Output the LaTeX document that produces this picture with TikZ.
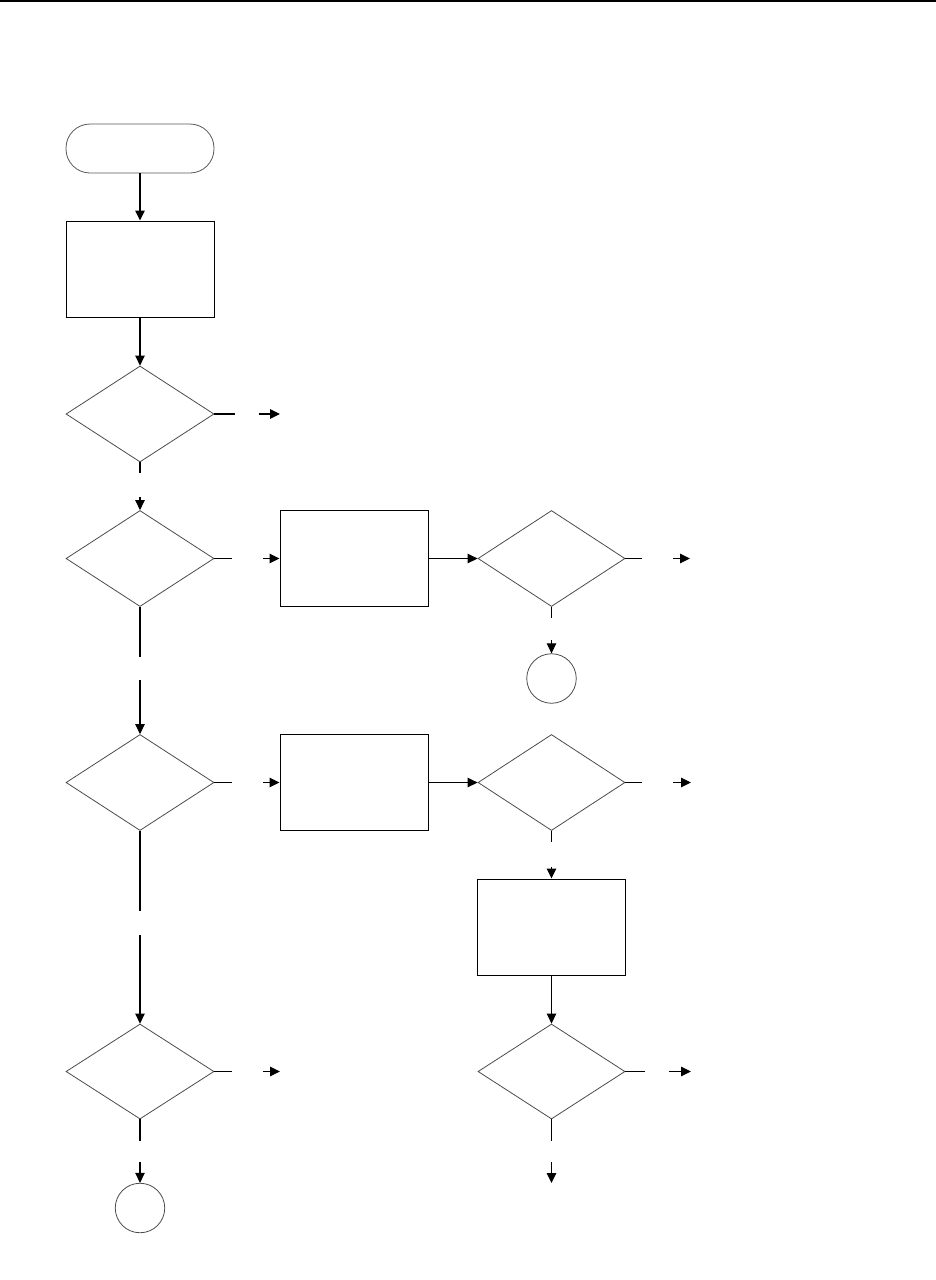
\documentclass[tikz,border=0pt]{standalone}
\usetikzlibrary{shapes.geometric,arrows.meta}
\begin{document}
\begin{tikzpicture}[x=1pt,y=-1pt,
  procbox/.style={draw=black,line width=1pt,rectangle,minimum width=148pt,minimum height=96pt,inner sep=0pt},
  decis/.style={draw=black!70,line width=0.8pt,diamond,minimum width=148pt,minimum height=96pt,inner sep=0pt},
  termbox/.style={draw=black!65,line width=0.8pt,rectangle,rounded corners=24pt,minimum width=148pt,minimum height=49pt,inner sep=0pt},
  connc/.style={draw=black!70,line width=0.8pt,circle,minimum size=49.5pt,inner sep=0pt},
  wire/.style={draw=black,line width=1.1pt},
  arr/.style={wire,-{Triangle[length=10pt,width=9.5pt]}}]
\useasboundingbox (0,0) rectangle (936,1280);
\fill[white] (0,0) rectangle (936,1280);
\draw[line width=1.5pt] (0,1) -- (936,1);
% nodes
\node[termbox] (term) at (140,148.5) {};
\node[procbox] (box1) at (140,269) {};
\node[decis] (d1) at (140,414) {};
\node[decis] (d2) at (140,558.5) {};
\node[procbox] (box2) at (354,558.5) {};
\node[decis,minimum width=147pt] (d3) at (551.5,558.5) {};
\node[connc] (circ1) at (551.5,678.5) {};
\node[decis] (d4) at (140,782.5) {};
\node[procbox] (box3) at (354,782.5) {};
\node[decis,minimum width=147pt] (d5) at (551.5,782.5) {};
\node[procbox] (box4) at (551.5,927) {};
\node[decis,minimum height=95pt] (d6) at (140,1071.5) {};
\node[connc] (circ2) at (140,1208) {};
\node[decis,minimum width=147pt,minimum height=95pt] (d7) at (551.5,1071.5) {};
% coordinates for split connectors
\coordinate (d1e1) at (235,414); \coordinate (d1e2) at (259,414); \coordinate (d1e3) at (280,414);
\coordinate (d1s1) at (140,473); \coordinate (d1s2) at (140,497);
\coordinate (d2e1) at (232,558.5); \coordinate (d2e2) at (263,558.5);
\coordinate (d2s1) at (140,657); \coordinate (d2s2) at (140,680);
\coordinate (d3e1) at (642,558.5); \coordinate (d3e2) at (673,558.5); \coordinate (d3e3) at (690,558.5);
\coordinate (d3s1) at (551.5,618); \coordinate (d3s2) at (551.5,640);
\coordinate (d4e1) at (232,782.5); \coordinate (d4e2) at (263,782.5);
\coordinate (d4s1) at (140,911); \coordinate (d4s2) at (140,935);
\coordinate (d5e1) at (642,782.5); \coordinate (d5e2) at (673,782.5); \coordinate (d5e3) at (691,782.5);
\coordinate (d5s1) at (551.5,842); \coordinate (d5s2) at (551.5,867);
\coordinate (d6e1) at (232,1071.5); \coordinate (d6e2) at (263,1071.5); \coordinate (d6e3) at (280,1071.5);
\coordinate (d6s1) at (140,1141); \coordinate (d6s2) at (140,1162);
\coordinate (d7e1) at (645,1071.5); \coordinate (d7e2) at (669,1071.5); \coordinate (d7e3) at (691,1071.5);
\coordinate (d7s1) at (551.5,1141); \coordinate (d7s2) at (551.5,1162); \coordinate (d7s3) at (551.5,1183);
% connectors
\draw[arr] (term) -- (box1);
\draw[arr] (box1) -- (d1);
\draw[wire] (d1.east) -- (d1e1); \draw[arr] (d1e2) -- (d1e3);
\draw[wire] (d1.south) -- (d1s1); \draw[arr] (d1s2) -- (d2.north);
\draw[wire] (d2.east) -- (d2e1); \draw[arr] (d2e2) -- (box2.west);
\draw[arr] (box2.east) -- (d3.west);
\draw[wire] (d3.east) -- (d3e1); \draw[arr] (d3e2) -- (d3e3);
\draw[wire] (d3.south) -- (d3s1); \draw[arr] (d3s2) -- (circ1.north);
\draw[wire] (d2.south) -- (d2s1); \draw[arr] (d2s2) -- (d4.north);
\draw[wire] (d4.east) -- (d4e1); \draw[arr] (d4e2) -- (box3.west);
\draw[arr] (box3.east) -- (d5.west);
\draw[wire] (d5.east) -- (d5e1); \draw[arr] (d5e2) -- (d5e3);
\draw[wire] (d5.south) -- (d5s1); \draw[arr] (d5s2) -- (box4.north);
\draw[arr] (box4.south) -- (d7.north);
\draw[wire] (d4.south) -- (d4s1); \draw[arr] (d4s2) -- (d6.north);
\draw[wire] (d6.east) -- (d6e1); \draw[arr] (d6e2) -- (d6e3);
\draw[wire] (d6.south) -- (d6s1); \draw[arr] (d6s2) -- (circ2.north);
\draw[wire] (d7.east) -- (d7e1); \draw[arr] (d7e2) -- (d7e3);
\draw[wire] (d7.south) -- (d7s1); \draw[arr] (d7s2) -- (d7s3);
\end{tikzpicture}
\end{document}
